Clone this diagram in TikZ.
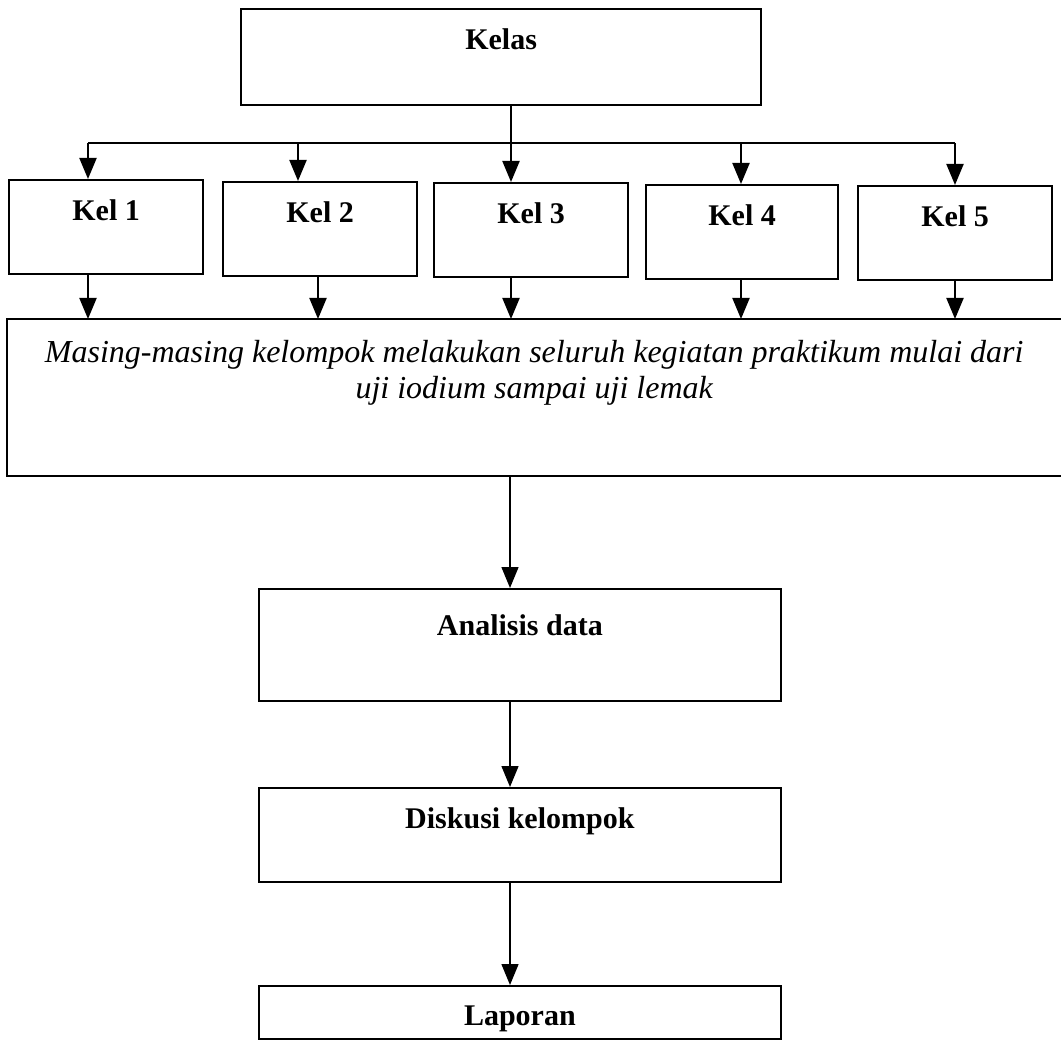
\documentclass[tikz,border=0pt]{standalone}
\usepackage{fontspec}
\setmainfont{Liberation Serif}
\usetikzlibrary{arrows.meta,calc}
\begin{document}
\begin{tikzpicture}[x=1pt,y=-1pt,
  box/.style={draw, line width=2.2pt, rectangle, inner xsep=0pt, inner ysep=0pt,
    anchor=north west, font=\fontsize{30}{36}\selectfont\bfseries},
  kelbox/.style={box, minimum width=194pt, text height=40pt, text depth=54pt},
  lowbox/.style={box, line width=1.7pt, minimum width=522pt},
  arr/.style={line width=2pt, -{Triangle[width=17pt,length=21pt]}},
  thinarr/.style={line width=1.5pt, -{Triangle[width=17pt,length=21pt]}}]
\useasboundingbox (0,0) rectangle (1061,1040);

% top box
\node[box, minimum width=520pt, text height=40pt, text depth=56pt] (kelas) at (240,8) {Kelas};

% groups
\node[kelbox] (k1) at (8,179) {Kel 1};
\node[kelbox] (k2) at (222,181) {Kel 2};
\node[kelbox] (k3) at (433,182) {Kel 3};
\node[kelbox, minimum width=192pt] (k4) at (645,184) {Kel 4};
\node[kelbox] (k5) at (857,185) {Kel 5};

% big activity box (no right border visible)
\node[anchor=north west, inner xsep=0pt, inner ysep=0pt, minimum width=1054pt,
  text height=79pt, text depth=78pt, align=center,
  font=\fontsize{32}{36}\selectfont\itshape] (big) at (7,319)
  {Masing-masing kelompok melakukan seluruh kegiatan praktikum mulai dari\\uji iodium sampai uji lemak};
\draw[line width=2.2pt] (big.north east) -- (big.north west) -- (big.south west) -- (big.south east);

% lower boxes
\node[lowbox, text height=47pt, text depth=65pt] (ana) at (258,588) {Analisis data};
\node[lowbox, text height=41pt, text depth=53pt] (disk) at (258,787) {Diskusi kelompok};
\node[lowbox, text height=40pt, text depth=13pt] (lap) at (258,985) {Laporan};

% distribution bar
\coordinate (t1) at (88,143);
\coordinate (t2) at (298,143);
\coordinate (t3) at (511,143);
\coordinate (t4) at (741,143);
\coordinate (t5) at (955,143);
\draw[line width=2pt] (kelas.south -| t3) -- (t3);
\draw[line width=2pt] (t1) -- (t5);
\draw[arr] (t1) -- (t1 |- k1.north);
\draw[arr] (t2) -- (t2 |- k2.north);
\draw[arr] (t3) -- (t3 |- k3.north);
\draw[arr] (t4) -- (t4 |- k4.north);
\draw[arr] (t5) -- (t5 |- k5.north);

% groups to activity box
\coordinate (d1) at (88,0);
\coordinate (d2) at (318,0);
\coordinate (d3) at (511,0);
\coordinate (d4) at (741,0);
\coordinate (d5) at (955,0);
\draw[arr] (k1.south -| d1) -- (big.north -| d1);
\draw[arr] (k2.south -| d2) -- (big.north -| d2);
\draw[arr] (k3.south -| d3) -- (big.north -| d3);
\draw[arr] (k4.south -| d4) -- (big.north -| d4);
\draw[arr] (k5.south -| d5) -- (big.north -| d5);

% lower chain
\coordinate (m) at (510,0);
\draw[thinarr] (big.south -| m) -- (ana.north -| m);
\draw[thinarr] (ana.south -| m) -- (disk.north -| m);
\draw[thinarr] (disk.south -| m) -- (lap.north -| m);
\end{tikzpicture}
\end{document}
